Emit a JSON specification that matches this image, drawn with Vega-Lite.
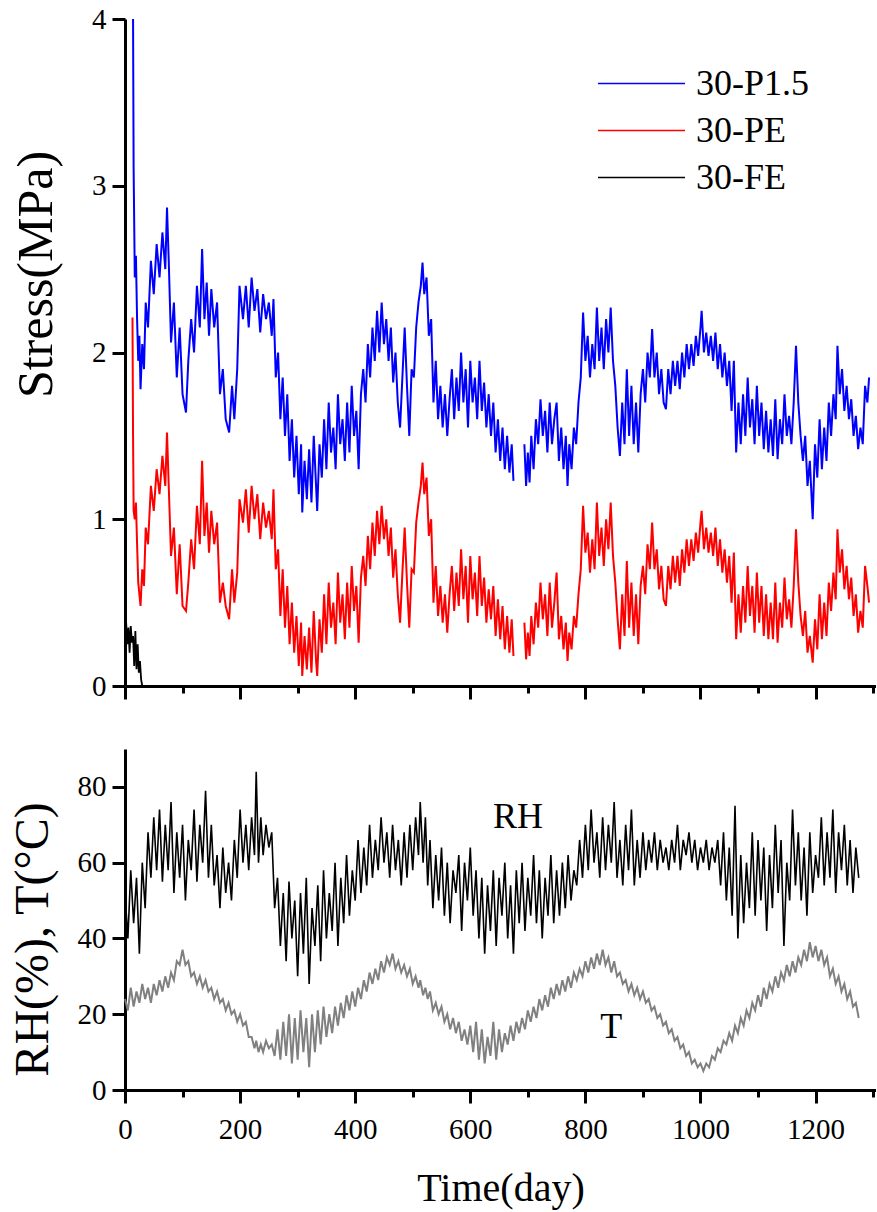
{
"$schema":"https://vega.github.io/schema/vega-lite/v6.json",
"padding":{"left":9,"top":5,"right":0,"bottom":5},
"background":"white",
"config":{"font":"Liberation Serif","view":{"stroke":null},
"axis":{"grid":false,"domainColor":"black","domainWidth":3,"tickColor":"black","tickWidth":3,"labelColor":"black","titleColor":"black","labelFont":"Liberation Serif","titleFont":"Liberation Serif","labelFontSize":29,"titleFontWeight":"normal"}},
"datasets":{
"stress":[
{"d":13,"r":2.21},{"d":14,"b":4.0,"r":1.5},{"d":15,"b":3.1,"r":1.05},{"d":17,"b":2.45,"r":1.0},{"d":19,"b":2.58,"r":1.1},{"d":21,"b":2.2,"r":0.85},{"d":23,"b":1.95,"r":0.62},{"d":25,"b":2.1,"r":0.55},{"d":27,"b":1.78,"r":0.48},{"d":30,"b":2.05,"r":0.7},{"d":33,"b":1.9,"r":0.6},{"d":36,"b":2.3,"r":0.95},{"d":40,"b":2.15,"r":0.85},{"d":45,"b":2.55,"r":1.2},{"d":50,"b":2.35,"r":1.05},{"d":55,"b":2.65,"r":1.3},{"d":60,"b":2.45,"r":1.15},{"d":65,"b":2.72,"r":1.38},{"d":70,"b":2.5,"r":1.2},{"d":73,"b":2.87,"r":1.52},{"d":76,"b":2.55,"r":1.2},{"d":80,"b":2.06,"r":0.78},{"d":85,"b":2.3,"r":0.95},{"d":90,"b":1.85,"r":0.55},{"d":95,"b":2.15,"r":0.85},{"d":100,"b":1.75,"r":0.48},{"d":106,"b":1.64,"r":0.45},{"d":110,"b":1.95,"r":0.62},{"d":115,"b":2.2,"r":0.88},{"d":120,"b":2.0,"r":0.7},{"d":125,"b":2.4,"r":1.08},{"d":130,"b":2.15,"r":0.85},{"d":134,"b":2.62,"r":1.35},{"d":138,"b":2.2,"r":0.9},{"d":142,"b":2.42,"r":1.1},{"d":146,"b":2.1,"r":0.8},{"d":150,"b":2.38,"r":1.05},{"d":155,"b":2.15,"r":0.85},{"d":160,"b":2.3,"r":0.98},{"d":165,"b":1.75,"r":0.5},{"d":170,"b":1.9,"r":0.62},{"d":175,"b":1.6,"r":0.48},{"d":181,"b":1.52,"r":0.4},{"d":186,"b":1.8,"r":0.7},{"d":190,"b":1.6,"r":0.5},{"d":195,"b":1.9,"r":0.68},{"d":199,"b":2.4,"r":1.12},{"d":205,"b":2.2,"r":0.98},{"d":210,"b":2.4,"r":1.18},{"d":215,"b":2.15,"r":0.92},{"d":220,"b":2.45,"r":1.2},{"d":225,"b":2.25,"r":1.0},{"d":230,"b":2.38,"r":1.15},{"d":235,"b":2.12,"r":0.88},{"d":240,"b":2.35,"r":1.1},{"d":245,"b":2.2,"r":0.95},{"d":250,"b":2.3,"r":1.05},{"d":255,"b":2.1,"r":0.88},{"d":258,"b":2.32,"r":1.18},{"d":262,"b":1.85,"r":0.7},{"d":266,"b":2.0,"r":0.82},{"d":270,"b":1.6,"r":0.42},{"d":274,"b":1.85,"r":0.7},{"d":278,"b":1.5,"r":0.35},{"d":282,"b":1.75,"r":0.6},{"d":286,"b":1.35,"r":0.25},{"d":290,"b":1.6,"r":0.5},{"d":294,"b":1.25,"r":0.2},{"d":298,"b":1.5,"r":0.42},{"d":302,"b":1.15,"r":0.12},{"d":306,"b":1.45,"r":0.38},{"d":308,"b":1.04,"r":0.06},{"d":312,"b":1.35,"r":0.3},{"d":316,"b":1.12,"r":0.1},{"d":320,"b":1.42,"r":0.35},{"d":324,"b":1.1,"r":0.08},{"d":328,"b":1.5,"r":0.45},{"d":332,"b":1.2,"r":0.15},{"d":334,"b":1.05,"r":0.06},{"d":338,"b":1.45,"r":0.4},{"d":342,"b":1.25,"r":0.2},{"d":346,"b":1.6,"r":0.55},{"d":350,"b":1.3,"r":0.25},{"d":354,"b":1.7,"r":0.62},{"d":358,"b":1.4,"r":0.35},{"d":362,"b":1.55,"r":0.5},{"d":366,"b":1.3,"r":0.25},{"d":370,"b":1.75,"r":0.68},{"d":374,"b":1.45,"r":0.38},{"d":378,"b":1.6,"r":0.55},{"d":382,"b":1.35,"r":0.28},{"d":386,"b":1.7,"r":0.62},{"d":390,"b":1.4,"r":0.35},{"d":394,"b":1.8,"r":0.72},{"d":398,"b":1.5,"r":0.45},{"d":402,"b":1.65,"r":0.6},{"d":406,"b":1.3,"r":0.26},{"d":410,"b":1.75,"r":0.65},{"d":414,"b":1.9,"r":0.78},{"d":418,"b":1.7,"r":0.6},{"d":422,"b":2.05,"r":0.9},{"d":426,"b":1.85,"r":0.7},{"d":430,"b":2.15,"r":0.98},{"d":434,"b":1.95,"r":0.78},{"d":438,"b":2.25,"r":1.05},{"d":442,"b":2.0,"r":0.85},{"d":446,"b":2.3,"r":1.08},{"d":450,"b":2.05,"r":0.88},{"d":454,"b":2.2,"r":1.0},{"d":458,"b":1.95,"r":0.78},{"d":462,"b":2.15,"r":0.95},{"d":466,"b":1.82,"r":0.65},{"d":470,"b":2.0,"r":0.82},{"d":474,"b":1.7,"r":0.55},{"d":478,"b":1.55,"r":0.38},{"d":482,"b":1.85,"r":0.68},{"d":486,"b":2.15,"r":0.95},{"d":490,"b":1.8,"r":0.62},{"d":494,"b":1.5,"r":0.35},{"d":498,"b":1.9,"r":0.7},{"d":502,"b":1.85,"r":0.68},{"d":506,"b":2.15,"r":0.98},{"d":510,"b":2.3,"r":1.1},{"d":514,"b":2.4,"r":1.2},{"d":517,"b":2.54,"r":1.34},{"d":520,"b":2.35,"r":1.15},{"d":524,"b":2.45,"r":1.25},{"d":528,"b":2.1,"r":0.9},{"d":532,"b":2.2,"r":1.0},{"d":536,"b":1.7,"r":0.5},{"d":540,"b":1.95,"r":0.72},{"d":544,"b":1.6,"r":0.42},{"d":548,"b":1.8,"r":0.6},{"d":552,"b":1.55,"r":0.38},{"d":556,"b":1.75,"r":0.55},{"d":560,"b":1.5,"r":0.32},{"d":564,"b":1.72,"r":0.55},{"d":568,"b":1.9,"r":0.72},{"d":572,"b":1.6,"r":0.45},{"d":576,"b":1.85,"r":0.68},{"d":580,"b":1.65,"r":0.48},{"d":584,"b":2.0,"r":0.82},{"d":588,"b":1.7,"r":0.52},{"d":592,"b":1.9,"r":0.72},{"d":596,"b":1.55,"r":0.38},{"d":600,"b":1.95,"r":0.78},{"d":604,"b":1.7,"r":0.52},{"d":608,"b":1.85,"r":0.68},{"d":612,"b":1.6,"r":0.42},{"d":616,"b":1.95,"r":0.78},{"d":620,"b":1.65,"r":0.48},{"d":624,"b":1.82,"r":0.65},{"d":628,"b":1.55,"r":0.38},{"d":632,"b":1.75,"r":0.58},{"d":636,"b":1.5,"r":0.4},{"d":640,"b":1.7,"r":0.6},{"d":644,"b":1.4,"r":0.3},{"d":648,"b":1.6,"r":0.52},{"d":652,"b":1.35,"r":0.28},{"d":656,"b":1.55,"r":0.48},{"d":660,"b":1.3,"r":0.22},{"d":664,"b":1.5,"r":0.42},{"d":668,"b":1.28,"r":0.2},{"d":672,"b":1.45,"r":0.4},{"d":675,"b":1.23,"r":0.18},{"d":684,"b":null,"r":null},{"d":694,"b":1.45,"r":0.38},{"d":697,"b":1.2,"r":0.16},{"d":700,"b":1.4,"r":0.32},{"d":703,"b":1.22,"r":0.18},{"d":706,"b":1.5,"r":0.42},{"d":710,"b":1.3,"r":0.25},{"d":714,"b":1.6,"r":0.5},{"d":718,"b":1.45,"r":0.35},{"d":722,"b":1.72,"r":0.62},{"d":726,"b":1.5,"r":0.4},{"d":730,"b":1.65,"r":0.55},{"d":734,"b":1.4,"r":0.3},{"d":738,"b":1.7,"r":0.62},{"d":742,"b":1.45,"r":0.35},{"d":746,"b":1.6,"r":0.5},{"d":750,"b":1.7,"r":0.68},{"d":754,"b":1.35,"r":0.28},{"d":758,"b":1.55,"r":0.42},{"d":762,"b":1.3,"r":0.22},{"d":766,"b":1.5,"r":0.38},{"d":769,"b":1.2,"r":0.15},{"d":772,"b":1.45,"r":0.32},{"d":776,"b":1.3,"r":0.22},{"d":780,"b":1.55,"r":0.42},{"d":784,"b":1.45,"r":0.35},{"d":788,"b":1.7,"r":0.55},{"d":792,"b":1.85,"r":0.7},{"d":796,"b":2.24,"r":1.08},{"d":800,"b":1.95,"r":0.8},{"d":804,"b":2.1,"r":0.92},{"d":808,"b":1.85,"r":0.68},{"d":812,"b":2.05,"r":0.88},{"d":816,"b":1.9,"r":0.7},{"d":820,"b":2.27,"r":1.1},{"d":824,"b":1.95,"r":0.78},{"d":828,"b":2.15,"r":0.95},{"d":832,"b":1.9,"r":0.72},{"d":836,"b":2.2,"r":1.0},{"d":840,"b":2.0,"r":0.82},{"d":844,"b":2.27,"r":1.1},{"d":848,"b":1.95,"r":0.78},{"d":852,"b":1.8,"r":0.62},{"d":856,"b":1.55,"r":0.4},{"d":860,"b":1.38,"r":0.22},{"d":864,"b":1.7,"r":0.55},{"d":868,"b":1.45,"r":0.3},{"d":872,"b":1.9,"r":0.75},{"d":876,"b":1.5,"r":0.35},{"d":880,"b":1.8,"r":0.62},{"d":884,"b":1.45,"r":0.3},{"d":888,"b":1.7,"r":0.55},{"d":892,"b":1.4,"r":0.25},{"d":896,"b":1.75,"r":0.6},{"d":900,"b":1.9,"r":0.72},{"d":904,"b":1.7,"r":0.55},{"d":908,"b":2.0,"r":0.85},{"d":912,"b":1.85,"r":0.7},{"d":916,"b":2.14,"r":0.98},{"d":920,"b":1.85,"r":0.7},{"d":924,"b":2.0,"r":0.82},{"d":928,"b":1.75,"r":0.58},{"d":932,"b":1.9,"r":0.72},{"d":936,"b":1.7,"r":0.52},{"d":940,"b":1.66,"r":0.48},{"d":944,"b":1.9,"r":0.72},{"d":948,"b":1.75,"r":0.58},{"d":952,"b":1.95,"r":0.78},{"d":956,"b":1.8,"r":0.62},{"d":960,"b":1.95,"r":0.78},{"d":964,"b":1.78,"r":0.6},{"d":968,"b":2.0,"r":0.82},{"d":972,"b":1.85,"r":0.68},{"d":976,"b":2.05,"r":0.88},{"d":980,"b":1.9,"r":0.72},{"d":984,"b":2.05,"r":0.88},{"d":988,"b":1.92,"r":0.75},{"d":992,"b":2.1,"r":0.92},{"d":996,"b":1.98,"r":0.8},{"d":1000,"b":2.15,"r":0.98},{"d":1002,"b":2.25,"r":1.05},{"d":1006,"b":2.0,"r":0.82},{"d":1010,"b":2.12,"r":0.95},{"d":1014,"b":1.98,"r":0.8},{"d":1018,"b":2.1,"r":0.92},{"d":1022,"b":1.95,"r":0.78},{"d":1026,"b":2.12,"r":0.95},{"d":1030,"b":1.9,"r":0.72},{"d":1034,"b":2.05,"r":0.88},{"d":1038,"b":1.85,"r":0.68},{"d":1042,"b":2.0,"r":0.82},{"d":1046,"b":1.8,"r":0.62},{"d":1050,"b":1.95,"r":0.78},{"d":1054,"b":1.65,"r":0.5},{"d":1058,"b":1.95,"r":0.8},{"d":1062,"b":1.4,"r":0.28},{"d":1066,"b":1.7,"r":0.55},{"d":1070,"b":1.45,"r":0.32},{"d":1074,"b":1.75,"r":0.6},{"d":1078,"b":1.5,"r":0.38},{"d":1082,"b":1.85,"r":0.72},{"d":1086,"b":1.55,"r":0.42},{"d":1090,"b":1.72,"r":0.6},{"d":1094,"b":1.45,"r":0.32},{"d":1098,"b":1.8,"r":0.68},{"d":1102,"b":1.5,"r":0.38},{"d":1106,"b":1.7,"r":0.6},{"d":1110,"b":1.42,"r":0.3},{"d":1114,"b":1.65,"r":0.55},{"d":1118,"b":1.4,"r":0.28},{"d":1122,"b":1.6,"r":0.5},{"d":1126,"b":1.38,"r":0.28},{"d":1130,"b":1.72,"r":0.62},{"d":1134,"b":1.36,"r":0.26},{"d":1138,"b":1.6,"r":0.5},{"d":1142,"b":1.45,"r":0.35},{"d":1146,"b":1.75,"r":0.65},{"d":1150,"b":1.5,"r":0.4},{"d":1154,"b":1.62,"r":0.52},{"d":1158,"b":1.45,"r":0.35},{"d":1162,"b":1.7,"r":0.6},{"d":1166,"b":2.04,"r":0.94},{"d":1170,"b":1.7,"r":0.62},{"d":1174,"b":1.5,"r":0.42},{"d":1178,"b":1.35,"r":0.3},{"d":1182,"b":1.5,"r":0.45},{"d":1186,"b":1.2,"r":0.2},{"d":1190,"b":1.35,"r":0.3},{"d":1195,"b":1.0,"r":0.14},{"d":1199,"b":1.45,"r":0.4},{"d":1203,"b":1.25,"r":0.22},{"d":1207,"b":1.6,"r":0.55},{"d":1211,"b":1.3,"r":0.28},{"d":1215,"b":1.55,"r":0.5},{"d":1219,"b":1.35,"r":0.3},{"d":1223,"b":1.7,"r":0.62},{"d":1227,"b":1.5,"r":0.45},{"d":1231,"b":1.75,"r":0.68},{"d":1235,"b":1.6,"r":0.52},{"d":1238,"b":2.04,"r":0.94},{"d":1242,"b":1.75,"r":0.68},{"d":1246,"b":1.9,"r":0.82},{"d":1250,"b":1.65,"r":0.58},{"d":1254,"b":1.8,"r":0.72},{"d":1258,"b":1.6,"r":0.52},{"d":1262,"b":1.72,"r":0.65},{"d":1266,"b":1.5,"r":0.42},{"d":1270,"b":1.62,"r":0.55},{"d":1274,"b":1.42,"r":0.32},{"d":1278,"b":1.55,"r":0.45},{"d":1282,"b":1.45,"r":0.35},{"d":1286,"b":1.8,"r":0.72},{"d":1290,"b":1.7,"r":0.6},{"d":1293,"b":1.85,"r":0.5}
],
"fe":[
{"d":0,"k":"f","v":0.3},{"d":2,"k":"f","v":0.38},{"d":4,"k":"f","v":0.25},{"d":6,"k":"f","v":0.35},{"d":8,"k":"f","v":0.2},{"d":10,"k":"f","v":0.36},{"d":12,"k":"f","v":0.26},{"d":14,"k":"f","v":0.3},{"d":16,"k":"f","v":0.12},{"d":18,"k":"f","v":0.33},{"d":20,"k":"f","v":0.1},{"d":22,"k":"f","v":0.25},{"d":24,"k":"f","v":0.08},{"d":26,"k":"f","v":0.15},{"d":28,"k":"f","v":0.04},{"d":30,"k":"f","v":0.0}
],
"env":[
{"d":0,"h":52,"t":24},{"d":5,"h":40,"t":21},{"d":10,"h":58,"t":27},{"d":15,"h":44,"t":22},{"d":20,"h":56,"t":26},{"d":25,"h":36,"t":23},{"d":30,"h":60,"t":28},{"d":35,"h":48,"t":24},{"d":40,"h":68,"t":27},{"d":45,"h":56,"t":23},{"d":50,"h":72,"t":28},{"d":55,"h":58,"t":25},{"d":60,"h":74,"t":29},{"d":65,"h":55,"t":26},{"d":70,"h":70,"t":30},{"d":75,"h":58,"t":27},{"d":80,"h":76,"t":31},{"d":85,"h":52,"t":29},{"d":90,"h":68,"t":34},{"d":95,"h":56,"t":33},{"d":100,"h":70,"t":37},{"d":105,"h":50,"t":33},{"d":110,"h":66,"t":34},{"d":115,"h":58,"t":30},{"d":120,"h":74,"t":31},{"d":125,"h":55,"t":28},{"d":130,"h":70,"t":30},{"d":135,"h":60,"t":27},{"d":140,"h":79,"t":29},{"d":145,"h":56,"t":26},{"d":150,"h":70,"t":27},{"d":155,"h":54,"t":24},{"d":160,"h":62,"t":26},{"d":165,"h":48,"t":23},{"d":170,"h":64,"t":24},{"d":175,"h":52,"t":21},{"d":180,"h":60,"t":23},{"d":185,"h":50,"t":20},{"d":190,"h":66,"t":21},{"d":195,"h":56,"t":18},{"d":200,"h":74,"t":20},{"d":205,"h":60,"t":17},{"d":210,"h":70,"t":18},{"d":215,"h":58,"t":14},{"d":220,"h":72,"t":14},{"d":225,"h":62,"t":11},{"d":228,"h":84,"t":13},{"d":232,"h":60,"t":10},{"d":236,"h":72,"t":12},{"d":240,"h":62,"t":10},{"d":245,"h":70,"t":13},{"d":250,"h":64,"t":11},{"d":255,"h":68,"t":12},{"d":260,"h":48,"t":9},{"d":265,"h":56,"t":16},{"d":270,"h":38,"t":8},{"d":275,"h":52,"t":18},{"d":280,"h":34,"t":9},{"d":285,"h":55,"t":20},{"d":290,"h":40,"t":7},{"d":295,"h":50,"t":19},{"d":300,"h":30,"t":8},{"d":305,"h":52,"t":21},{"d":310,"h":36,"t":10},{"d":315,"h":56,"t":19},{"d":320,"h":28,"t":6},{"d":325,"h":48,"t":20},{"d":330,"h":38,"t":10},{"d":335,"h":54,"t":21},{"d":340,"h":34,"t":12},{"d":345,"h":58,"t":22},{"d":350,"h":40,"t":14},{"d":355,"h":52,"t":20},{"d":360,"h":42,"t":15},{"d":365,"h":60,"t":22},{"d":370,"h":38,"t":17},{"d":375,"h":56,"t":23},{"d":380,"h":44,"t":19},{"d":385,"h":62,"t":25},{"d":390,"h":46,"t":21},{"d":395,"h":58,"t":26},{"d":400,"h":50,"t":22},{"d":405,"h":66,"t":27},{"d":410,"h":52,"t":24},{"d":415,"h":64,"t":29},{"d":420,"h":54,"t":26},{"d":425,"h":70,"t":31},{"d":430,"h":56,"t":28},{"d":435,"h":66,"t":32},{"d":440,"h":58,"t":29},{"d":445,"h":72,"t":34},{"d":450,"h":60,"t":31},{"d":455,"h":68,"t":35},{"d":460,"h":56,"t":33},{"d":465,"h":70,"t":36},{"d":470,"h":58,"t":32},{"d":475,"h":66,"t":34},{"d":480,"h":54,"t":31},{"d":485,"h":68,"t":33},{"d":490,"h":56,"t":30},{"d":495,"h":70,"t":32},{"d":500,"h":58,"t":28},{"d":505,"h":72,"t":30},{"d":510,"h":62,"t":27},{"d":513,"h":76,"t":29},{"d":518,"h":60,"t":25},{"d":522,"h":72,"t":27},{"d":526,"h":54,"t":24},{"d":530,"h":66,"t":26},{"d":535,"h":48,"t":21},{"d":540,"h":62,"t":23},{"d":545,"h":50,"t":20},{"d":550,"h":64,"t":22},{"d":555,"h":46,"t":18},{"d":560,"h":60,"t":20},{"d":565,"h":44,"t":16},{"d":570,"h":58,"t":19},{"d":575,"h":52,"t":15},{"d":580,"h":62,"t":18},{"d":585,"h":42,"t":13},{"d":590,"h":60,"t":16},{"d":595,"h":50,"t":12},{"d":600,"h":64,"t":17},{"d":605,"h":46,"t":10},{"d":610,"h":58,"t":18},{"d":615,"h":40,"t":8},{"d":620,"h":56,"t":16},{"d":625,"h":36,"t":7},{"d":630,"h":54,"t":14},{"d":635,"h":42,"t":9},{"d":640,"h":58,"t":18},{"d":645,"h":38,"t":8},{"d":650,"h":56,"t":16},{"d":655,"h":46,"t":10},{"d":660,"h":60,"t":15},{"d":665,"h":40,"t":12},{"d":670,"h":54,"t":17},{"d":675,"h":36,"t":13},{"d":680,"h":58,"t":18},{"d":685,"h":44,"t":15},{"d":690,"h":60,"t":19},{"d":695,"h":42,"t":16},{"d":700,"h":56,"t":21},{"d":705,"h":46,"t":18},{"d":710,"h":62,"t":22},{"d":715,"h":44,"t":19},{"d":720,"h":58,"t":24},{"d":725,"h":40,"t":21},{"d":730,"h":56,"t":25},{"d":735,"h":46,"t":22},{"d":740,"h":62,"t":27},{"d":745,"h":44,"t":24},{"d":750,"h":58,"t":28},{"d":755,"h":46,"t":25},{"d":760,"h":60,"t":29},{"d":765,"h":48,"t":26},{"d":770,"h":62,"t":30},{"d":775,"h":50,"t":27},{"d":780,"h":58,"t":31},{"d":785,"h":54,"t":29},{"d":790,"h":66,"t":32},{"d":795,"h":56,"t":30},{"d":800,"h":70,"t":34},{"d":805,"h":58,"t":31},{"d":810,"h":74,"t":35},{"d":815,"h":60,"t":32},{"d":820,"h":68,"t":36},{"d":825,"h":56,"t":33},{"d":830,"h":72,"t":37},{"d":835,"h":58,"t":33},{"d":840,"h":70,"t":35},{"d":845,"h":60,"t":31},{"d":850,"h":76,"t":34},{"d":855,"h":56,"t":30},{"d":860,"h":66,"t":31},{"d":865,"h":54,"t":28},{"d":870,"h":70,"t":29},{"d":875,"h":58,"t":26},{"d":880,"h":74,"t":28},{"d":885,"h":54,"t":25},{"d":890,"h":66,"t":27},{"d":895,"h":56,"t":24},{"d":900,"h":68,"t":26},{"d":905,"h":58,"t":23},{"d":910,"h":66,"t":24},{"d":915,"h":60,"t":21},{"d":920,"h":68,"t":22},{"d":925,"h":58,"t":19},{"d":930,"h":66,"t":20},{"d":935,"h":60,"t":17},{"d":940,"h":64,"t":18},{"d":945,"h":58,"t":15},{"d":950,"h":66,"t":16},{"d":955,"h":60,"t":13},{"d":960,"h":70,"t":14},{"d":965,"h":58,"t":11},{"d":970,"h":66,"t":12},{"d":975,"h":62,"t":9},{"d":980,"h":68,"t":10},{"d":985,"h":60,"t":7},{"d":990,"h":66,"t":8},{"d":995,"h":58,"t":6},{"d":1000,"h":64,"t":7},{"d":1005,"h":60,"t":5},{"d":1010,"h":66,"t":7},{"d":1015,"h":58,"t":6},{"d":1020,"h":64,"t":9},{"d":1025,"h":60,"t":8},{"d":1030,"h":66,"t":11},{"d":1035,"h":54,"t":10},{"d":1040,"h":68,"t":13},{"d":1045,"h":50,"t":12},{"d":1050,"h":64,"t":15},{"d":1055,"h":46,"t":13},{"d":1060,"h":75,"t":17},{"d":1065,"h":40,"t":15},{"d":1070,"h":62,"t":19},{"d":1075,"h":44,"t":17},{"d":1080,"h":60,"t":21},{"d":1085,"h":48,"t":19},{"d":1090,"h":68,"t":23},{"d":1095,"h":46,"t":21},{"d":1100,"h":66,"t":25},{"d":1105,"h":50,"t":22},{"d":1110,"h":64,"t":27},{"d":1115,"h":42,"t":24},{"d":1120,"h":62,"t":28},{"d":1125,"h":48,"t":26},{"d":1130,"h":70,"t":30},{"d":1135,"h":52,"t":27},{"d":1140,"h":66,"t":31},{"d":1145,"h":38,"t":29},{"d":1150,"h":60,"t":33},{"d":1155,"h":50,"t":30},{"d":1160,"h":74,"t":34},{"d":1165,"h":54,"t":31},{"d":1170,"h":68,"t":35},{"d":1175,"h":50,"t":33},{"d":1180,"h":64,"t":37},{"d":1185,"h":46,"t":34},{"d":1190,"h":68,"t":39},{"d":1195,"h":52,"t":35},{"d":1200,"h":62,"t":38},{"d":1205,"h":56,"t":34},{"d":1210,"h":72,"t":37},{"d":1215,"h":54,"t":33},{"d":1220,"h":68,"t":35},{"d":1225,"h":56,"t":30},{"d":1230,"h":74,"t":32},{"d":1235,"h":52,"t":28},{"d":1240,"h":68,"t":30},{"d":1245,"h":58,"t":26},{"d":1250,"h":70,"t":28},{"d":1255,"h":54,"t":24},{"d":1260,"h":66,"t":26},{"d":1265,"h":52,"t":22},{"d":1270,"h":64,"t":23},{"d":1275,"h":56,"t":19}
],
"labels":[{"d":683,"v":72,"txt":"RH"},{"d":845,"v":16.6,"txt":"T"}]
},
"spacing":48,
"vconcat":[
{"width":751,"height":667,
"layer":[
{"data":{"name":"stress"},"transform":[{"fold":["b","r"],"as":["k","v"]}],
"mark":{"type":"line","strokeWidth":2,"invalid":"break-paths-show-domains"},
"encoding":{
"x":{"field":"d","type":"quantitative","scale":{"domain":[0,1305],"nice":false},
"axis":{"title":null,"labels":false,"values":[0,100,200,300,400,500,600,700,800,900,1000,1100,1200,1300],"tickSize":{"condition":{"test":"datum.value % 200 === 0","value":13},"value":7}}},
"y":{"field":"v","type":"quantitative","scale":{"domain":[0,4],"nice":false},
"axis":{"title":"Stress(MPa)","titleFont":"Liberation Serif","labelFont":"Liberation Serif","titleFontSize":50,"titlePadding":30,"titleY":255,"format":"d","values":[0,0.5,1,1.5,2,2.5,3,3.5,4],"labelExpr":"datum.value % 1 === 0 ? datum.label : ''","tickSize":{"condition":{"test":"datum.value % 1 === 0","value":13},"value":7},"labelPadding":6}},
"color":{"field":"k","type":"nominal","scale":{"domain":["b","r","f"],"range":["#0000ff","#ff0000","#000000"]},
"legend":{"title":null,"orient":"none","legendX":472,"legendY":41,"padding":0,"symbolType":"stroke","symbolSize":7569,"clipHeight":47,"symbolStrokeWidth":1.5,"labelFontSize":36,"labelOffset":10,"rowPadding":0,"labelColor":"black","labelFont":"Liberation Serif","labelExpr":"datum.value === 'b' ? '30-P1.5' : datum.value === 'r' ? '30-PE' : '30-FE'"}}
}},
{"data":{"name":"fe"},"mark":{"type":"line","strokeWidth":1.8},
"encoding":{"x":{"field":"d","type":"quantitative"},"y":{"field":"v","type":"quantitative"},"color":{"field":"k","type":"nominal"}}}
]},
{"width":751,"height":341,
"layer":[
{"data":{"name":"env"},"mark":{"type":"line","strokeWidth":1.6,"color":"#000000"},
"encoding":{
"x":{"field":"d","type":"quantitative","scale":{"domain":[0,1305],"nice":false},
"axis":{"title":"Time(day)","titleFont":"Liberation Serif","labelFont":"Liberation Serif","titleFontSize":40,"titlePadding":24,"labelPadding":12,"format":"d","labelOverlap":false,"labelFlush":false,"values":[0,100,200,300,400,500,600,700,800,900,1000,1100,1200,1300],"labelExpr":"datum.value % 200 === 0 ? datum.label : ''","tickSize":{"condition":{"test":"datum.value % 200 === 0","value":13},"value":7}}},
"y":{"field":"h","type":"quantitative","scale":{"domain":[0,90],"nice":false},
"axis":{"title":"RH(%), T(°C)","titleFont":"Liberation Serif","labelFont":"Liberation Serif","titleFontSize":48,"titlePadding":20,"titleY":190,"values":[0,10,20,30,40,50,60,70,80,90],"labelExpr":"datum.value % 20 === 0 && datum.value < 90 ? datum.label : ''","tickSize":{"condition":{"test":"datum.value % 20 === 0","value":13},"value":7},"labelPadding":6}}
}},
{"data":{"name":"env"},"mark":{"type":"line","strokeWidth":2,"color":"#808080"},
"encoding":{"x":{"field":"d","type":"quantitative"},"y":{"field":"t","type":"quantitative"}}},
{"data":{"name":"labels"},"mark":{"type":"text","fontSize":36,"color":"black","font":"Liberation Serif"},
"encoding":{"x":{"field":"d","type":"quantitative"},"y":{"field":"v","type":"quantitative"},"text":{"field":"txt"}}}
]}
]
}
